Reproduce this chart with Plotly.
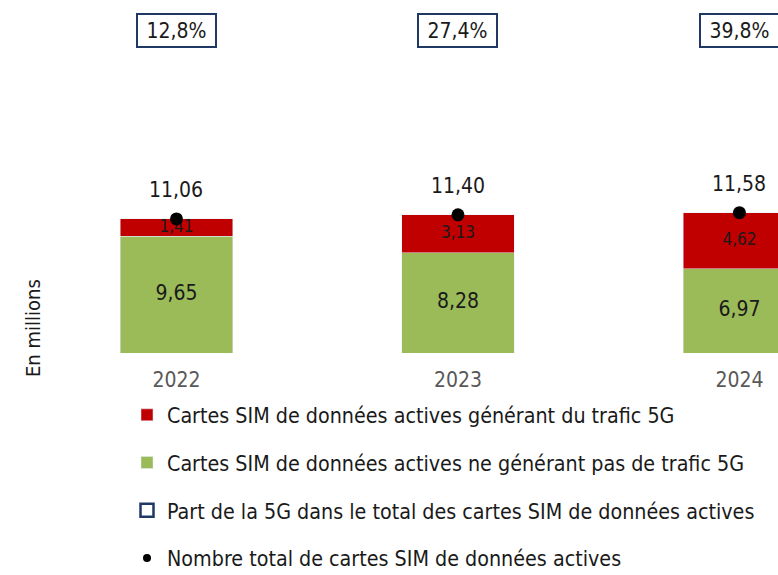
import plotly.graph_objects as go

# ---- data ----
years = ["2022", "2023", "2024"]
sim_5g = [1.41, 3.13, 4.62]          # Cartes SIM générant du trafic 5G
sim_non_5g = [9.65, 8.28, 6.97]      # Cartes SIM ne générant pas de trafic 5G
totals = [11.06, 11.40, 11.58]       # Nombre total de cartes SIM
share_5g = [12.8, 27.4, 39.8]        # Part de la 5G (%)

name_5g = "Cartes SIM de données actives générant du trafic 5G"
name_non = "Cartes SIM de données actives ne générant pas de trafic 5G"
name_share = "Part de la 5G dans le total des cartes SIM de données actives"
name_total = "Nombre total de cartes SIM de données actives"

FONT = "DejaVu Sans Condensed, DejaVu Sans, sans-serif"
RED = "#C00000"
GREEN = "#9BBB59"
NAVY = "#1F3864"
TXT = "#1a1a1a"

def fr(v, d=2):
    return f"{v:.{d}f}".replace(".", ",")

xs = list(range(len(years)))

fig = go.Figure()
fig.add_trace(go.Bar(x=xs, y=sim_non_5g, name=name_non, marker_color=GREEN,
                     width=0.4, legendgroup="g2", legendrank=2, hoverinfo="skip"))
fig.add_trace(go.Bar(x=xs, y=sim_5g, name=name_5g, marker_color=RED,
                     width=0.4, legendgroup="g1", legendrank=1, hoverinfo="skip"))

# labels inside segments
fig.add_trace(go.Scatter(x=xs, y=[g / 2 for g in sim_non_5g], mode="text",
                         text=[fr(v) for v in sim_non_5g],
                         textfont=dict(size=21, color=TXT, family=FONT),
                         showlegend=False, hoverinfo="skip"))
fig.add_trace(go.Scatter(x=xs, y=[g + r / 2 for g, r in zip(sim_non_5g, sim_5g)], mode="text",
                         text=[fr(v) for v in sim_5g],
                         textfont=dict(size=17, color=TXT, family=FONT),
                         showlegend=False, hoverinfo="skip"))

# legend entry for share boxes
fig.add_trace(go.Scatter(x=[None], y=[None], mode="markers", name=name_share,
                         marker=dict(symbol="square-open", size=13, color=NAVY,
                                     line=dict(width=2.5, color=NAVY)),
                         legendgroup="g3", legendrank=3))

# total dots
fig.add_trace(go.Scatter(x=xs, y=totals, mode="markers", name=name_total,
                         marker=dict(size=13, color="black"), showlegend=False,
                         hoverinfo="skip"))
fig.add_trace(go.Scatter(x=[None], y=[None], mode="markers", name=name_total,
                         marker=dict(size=8, color="black"),
                         legendgroup="g4", legendrank=4))

annotations = []
for i, t in enumerate(totals):
    annotations.append(dict(x=i, y=t, xref="x", yref="y", text=fr(t),
                            showarrow=False, yshift=29, yanchor="middle",
                            font=dict(size=21, color=TXT, family=FONT)))
for i, s in enumerate(share_5g):
    annotations.append(dict(x=i, y=0.9136, xref="x", yref="paper", text=fr(s, 1) + "%",
                            showarrow=False, yanchor="middle", xanchor="center",
                            width=73, height=27, borderpad=2, borderwidth=2,
                            bordercolor=NAVY, bgcolor="white",
                            font=dict(size=21, color=TXT, family=FONT)))
annotations.append(dict(x=33 / 778, y=0.0708, xref="paper", yref="paper",
                        text="En millions", textangle=-90, showarrow=False,
                        xanchor="center", yanchor="middle",
                        font=dict(size=20, color=TXT, family=FONT)))

fig.update_layout(
    width=778, height=575,
    margin=dict(l=0, r=0, t=0, b=222, pad=0, autoexpand=False),
    barmode="stack",
    plot_bgcolor="white", paper_bgcolor="white",
    font=dict(family=FONT, color=TXT),
    xaxis=dict(range=[-0.627, 2.137], tickvals=xs, ticktext=years,
               showgrid=False, zeroline=False, showline=False, ticks="",
               tickfont=dict(size=21, color="#595959", family=FONT),
               ticklabelstandoff=12, fixedrange=True),
    yaxis=dict(range=[0, 29.13], visible=False, fixedrange=True),
    showlegend=True,
    legend=dict(x=127 / 778, y=-0.1175, xanchor="left", yanchor="top",
                traceorder="grouped", tracegroupgap=17,
                font=dict(size=21.3, color=TXT, family=FONT),
                bgcolor="rgba(0,0,0,0)"),
    annotations=annotations,
)

post = (
    "document.body.style.margin='0px';"
    "document.body.style.overflow='hidden';"
    "document.querySelectorAll('.svg-container').forEach(function(e){"
    "e.style.verticalAlign='top';e.style.display='block';});"
)
fig.write_html("out.html", config={"displayModeBar": False}, post_script=post)
